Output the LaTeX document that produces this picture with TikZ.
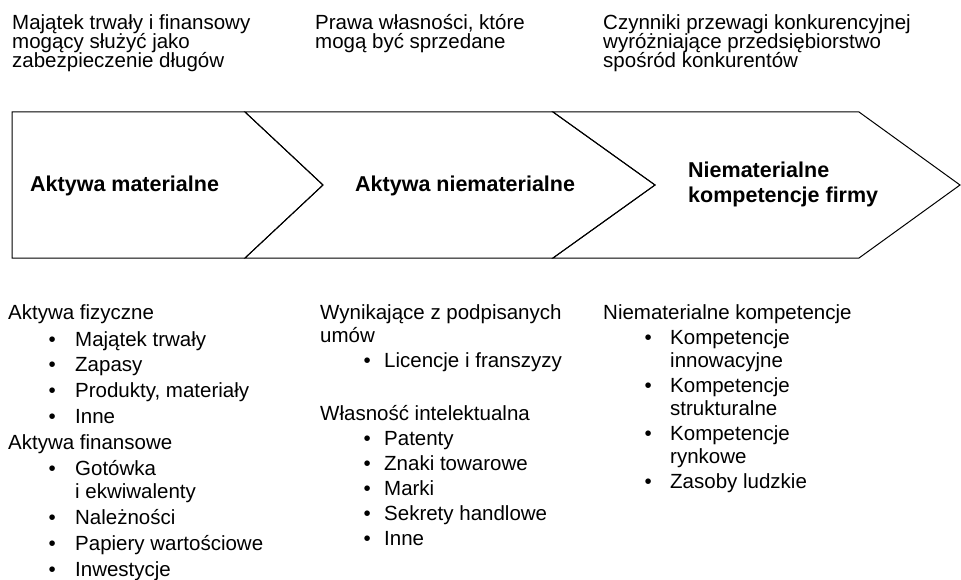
\documentclass[tikz,border=0pt]{standalone}
\usepackage{fontspec}
\setmainfont{Liberation Sans}
\usepackage{array}
\newcommand{\ciasno}{\lineskiplimit=-10pt\relax}
\tikzset{chevron/.style = {draw, line width = 1pt, line join = miter}}
\tikzset{opis/.style = {anchor = base west, inner sep = 0, align = left,
                        font = {\fontsize{20.5}{19}\selectfont\ciasno}}}
\tikzset{etykieta/.style = {anchor = base west, inner sep = 0, align = left,
                            font = {\fontsize{21.5}{25}\selectfont\bfseries}}}
\tikzset{lista/.style = {anchor = base west, inner sep = 0,
                         font = {\fontsize{20.5}{23}\selectfont}}}
\newcommand{\pkt}{& \textbullet &}
\newcommand{\nagl}[1]{\multicolumn{3}{@{}l@{}}{#1}}

\begin{document}
\begin{tikzpicture}[x=1pt, y=-1pt]
    \useasboundingbox (0, 0) rectangle (961, 580);

    \draw [chevron] (12, 112) -- (245, 112) -- (323, 185) -- (245, 258) -- (12, 258) -- cycle;
    \draw [chevron] (245, 112) -- (553, 112) -- (655, 185) -- (553, 258) -- (245, 258) -- (323, 185) -- cycle;
    \draw [chevron] (553, 112) -- (859, 112) -- (960, 185) -- (859, 258) -- (553, 258) -- (655, 185) -- cycle;

    % multi-line nodes sit on their last baseline
    \node [opis] (opisA) at (12, 68) {Majątek trwały i finansowy\\mogący służyć jako\\zabezpieczenie długów};
    \node [opis] (opisB) at (315, 49) {Prawa własności, które\\mogą być sprzedane};
    \node [opis] (opisC) at (603, 68) {Czynniki przewagi konkurencyjnej\\wyróżniające przedsiębiorstwo\\spośród konkurentów};

    \node [etykieta] (materialne) at (30, 192) {Aktywa materialne};
    \node [etykieta] (niematerialne) at (355, 192) {Aktywa niematerialne};
    \node [etykieta] (kompetencje) at (688, 203) {Niematerialne\\kompetencje firmy};

    \node [lista] (listaA) at (8, 319) {\begin{tabular}[t]{@{}p{40.5pt}@{}p{26.5pt}@{}l@{}}
      \nagl{Aktywa fizyczne}\\[4pt]
      \pkt Majątek trwały\\[2pt]
      \pkt Zapasy\\[3pt]
      \pkt Produkty, materiały\\[3pt]
      \pkt Inne\\[3pt]
      \nagl{Aktywa finansowe}\\[3pt]
      \pkt Gotówka\\
      & & i ekwiwalenty\\[3pt]
      \pkt Należności\\[3pt]
      \pkt Papiery wartościowe\\[3pt]
      \pkt Inwestycje
    \end{tabular}};

    \node [lista] (listaB) at (320, 319) {\begin{tabular}[t]{@{}p{43.5pt}@{}p{20.5pt}@{}l@{}}
      \nagl{Wynikające z podpisanych}\\
      \nagl{umów}\\[2pt]
      \pkt Licencje i franszyzy\\[30pt]
      \nagl{Własność intelektualna}\\[2pt]
      \pkt Patenty\\[2pt]
      \pkt Znaki towarowe\\[2pt]
      \pkt Marki\\[2pt]
      \pkt Sekrety handlowe\\[2pt]
      \pkt Inne
    \end{tabular}};

    \node [lista] (listaC) at (603, 319) {\begin{tabular}[t]{@{}p{41.5pt}@{}p{25.5pt}@{}l@{}}
      \nagl{Niematerialne kompetencje}\\[2pt]
      \pkt Kompetencje\\
      & & innowacyjne\\[2pt]
      \pkt Kompetencje\\
      & & strukturalne\\[2pt]
      \pkt Kompetencje\\
      & & rynkowe\\[2pt]
      \pkt Zasoby ludzkie
    \end{tabular}};
  \end{tikzpicture}
\end{document}
